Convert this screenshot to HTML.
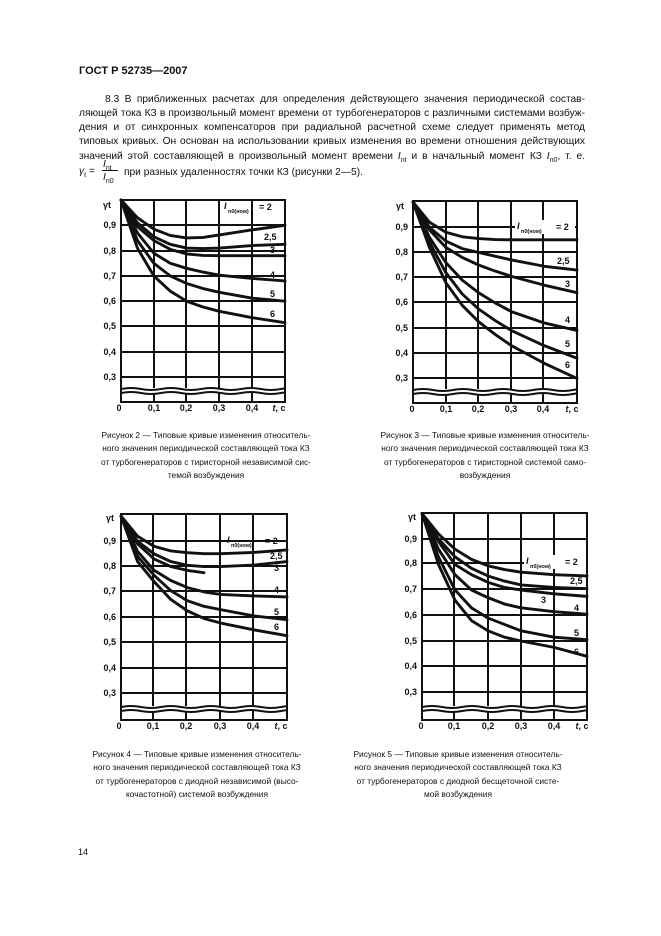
<!DOCTYPE html>
<html><head><meta charset="utf-8">
<style>
body{margin:0;background:#fff;}
#pg{position:relative;width:661px;height:936px;overflow:hidden;font-family:"Liberation Sans",Arial,sans-serif;color:#111;}
.l{position:absolute;font-size:10.2px;white-space:nowrap;text-align:justify;text-align-last:justify;line-height:12px;}
.cap{position:absolute;font-size:8.4px;line-height:13.3px;text-align:center;white-space:nowrap;}
svg{position:absolute;left:0;top:0;}
svg text{font-family:"Liberation Sans",Arial,sans-serif;font-weight:bold;fill:#111;}
.c{fill:none;stroke:#111;stroke-width:2.9px;stroke-linejoin:round;stroke-linecap:round;}
.g{stroke:#111;stroke-width:2px;fill:none;}
</style></head><body><div id="pg">
<div style="position:absolute;left:79px;top:65px;font-size:11px;font-weight:bold;">ГОСТ Р 52735—2007</div>
<div class="l" style="left:105px;top:94px;width:480px;">8.3 В приближенных расчетах для определения действующего значения периодической состав-</div>
<div class="l" style="left:79px;top:108px;width:506px;">ляющей тока КЗ в произвольный момент времени от турбогенераторов с различными системами возбуж-</div>
<div class="l" style="left:79px;top:122px;width:506px;">дения и от синхронных компенсаторов при радиальной расчетной схеме следует применять метод</div>
<div class="l" style="left:79px;top:136px;width:506px;">типовых кривых. Он основан на использовании кривых изменения во времени отношения действующих</div>
<div class="l" style="left:79px;top:151px;width:506px;">значений этой составляющей в произвольный момент времени <i>I</i><sub style="font-size:7px">nt</sub> и в начальный момент КЗ <i>I</i><sub style="font-size:7px">n0</sub>, т. е.</div>
<div style="position:absolute;left:79px;top:166px;font-size:10.2px;"><i>γ</i><sub style="font-size:7px">t</sub> =</div>
<div style="position:absolute;left:103px;top:159px;font-size:10.2px;"><i>I</i><sub style="font-size:7px">nt</sub></div>
<div style="position:absolute;left:102px;top:170px;width:16px;border-top:1px solid #111;"></div>
<div style="position:absolute;left:103px;top:172px;font-size:10.2px;"><i>I</i><sub style="font-size:7px">n0</sub></div>
<div style="position:absolute;left:124px;top:167px;font-size:10.2px;">при разных удаленностях точки КЗ (рисунки 2—5).</div>

<svg width="661" height="936" viewBox="0 0 661 936" font-size="9">
<defs>
<clipPath id="k1"><rect x="121" y="380" width="164" height="30"/></clipPath>
<clipPath id="k2"><rect x="413" y="380" width="164" height="30"/></clipPath>
<clipPath id="k3"><rect x="121" y="698" width="166" height="30"/></clipPath>
<clipPath id="k4"><rect x="422" y="698" width="165" height="30"/></clipPath>
</defs>
<!-- Chart 1 -->
<g>
<rect x="121" y="200" width="164" height="202" class="g"/>
<path class="g" d="M121 225H285M121 251H285M121 276H285M121 301H285M121 326H285M121 352H285M121 377H285M154 200V402M186 200V402M219 200V402M252 200V402"/>
<g transform="matrix(328,0,0,-253,121,453)">
<polyline vector-effect="non-scaling-stroke" class="c" points="0,1 .05,.93 .1,.885 .15,.86 .2,.85 .25,.852 .3,.862 .4,.882 .5,.9"/>
<polyline vector-effect="non-scaling-stroke" class="c" points="0,1 .05,.91 .1,.855 .15,.825 .2,.81 .25,.808 .3,.81 .4,.82 .5,.825"/>
<polyline vector-effect="non-scaling-stroke" class="c" points="0,1 .05,.895 .1,.84 .15,.805 .2,.787 .25,.781 .3,.78 .4,.78 .5,.78"/>
<polyline vector-effect="non-scaling-stroke" class="c" points="0,1 .05,.87 .1,.79 .15,.75 .2,.73 .25,.715 .3,.703 .4,.69 .5,.68"/>
<polyline vector-effect="non-scaling-stroke" class="c" points="0,1 .05,.84 .1,.75 .15,.7 .2,.67 .25,.65 .3,.635 .4,.612 .5,.6"/>
<polyline vector-effect="non-scaling-stroke" class="c" points="0,1 .05,.81 .1,.7 .15,.64 .2,.6 .25,.577 .3,.56 .4,.535 .5,.515"/>
</g>
<rect x="122" y="388" width="162" height="5" fill="#fff"/>
<g clip-path="url(#k1)">
<path class="g" d="M121 389q10-2 20 0t20 0t20 0t20 0t20 0t20 0t20 0t20 0t20 0"/>
<path class="g" d="M121 393q10-2 20 0t20 0t20 0t20 0t20 0t20 0t20 0t20 0t20 0"/>
</g>
<text x="103" y="208">γt</text>
<g text-anchor="end"><text x="116" y="228">0,9</text><text x="116" y="254">0,8</text><text x="116" y="279">0,7</text><text x="116" y="304">0,6</text><text x="116" y="329">0,5</text><text x="116" y="355">0,4</text><text x="116" y="380">0,3</text></g>
<g text-anchor="middle"><text x="119" y="411">0</text><text x="154" y="411">0,1</text><text x="186" y="411">0,2</text><text x="219" y="411">0,3</text><text x="252" y="411">0,4</text><text x="279" y="411"><tspan font-style="italic">t</tspan>, c</text></g>
<text x="224" y="209" font-style="italic" font-size="9">I</text><text x="228" y="213" font-size="5.5">п0(ном)</text><text x="259" y="210">= 2</text>
<text x="264" y="240">2,5</text><text x="270" y="253">3</text><text x="270" y="278">4</text><text x="270" y="297">5</text><text x="270" y="317">6</text>
</g>

<!-- Chart 2 -->
<g>
<rect x="413" y="201" width="164" height="202" class="g"/>
<path class="g" d="M413 227H577M413 252H577M413 277H577M413 302H577M413 328H577M413 353H577M413 378H577M446 201V403M478 201V403M511 201V403M543 201V403"/>
<g transform="matrix(328,0,0,-252,413,454)">
<polyline vector-effect="non-scaling-stroke" class="c" points="0,1 .05,.92 .1,.88 .15,.862 .2,.855 .25,.851 .3,.85 .4,.85 .5,.85"/>
<polyline vector-effect="non-scaling-stroke" class="c" points="0,1 .05,.9 .1,.845 .15,.815 .2,.8 .25,.785 .3,.77 .4,.745 .5,.73"/>
<polyline vector-effect="non-scaling-stroke" class="c" points="0,1 .05,.89 .1,.82 .15,.78 .2,.75 .25,.726 .3,.705 .4,.67 .5,.64"/>
<polyline vector-effect="non-scaling-stroke" class="c" points="0,1 .05,.86 .1,.76 .15,.69 .2,.64 .25,.6 .3,.565 .4,.52 .5,.49"/>
<polyline vector-effect="non-scaling-stroke" class="c" points="0,1 .05,.84 .1,.72 .15,.635 .2,.575 .25,.53 .3,.49 .4,.43 .5,.38"/>
<polyline vector-effect="non-scaling-stroke" class="c" points="0,1 .05,.82 .1,.68 .15,.59 .2,.525 .25,.475 .3,.43 .4,.36 .5,.3"/>
</g>
<rect x="414" y="389" width="162" height="5" fill="#fff"/>
<g clip-path="url(#k2)">
<path class="g" d="M413 390q10-2 20 0t20 0t20 0t20 0t20 0t20 0t20 0t20 0t20 0"/>
<path class="g" d="M413 394q10-2 20 0t20 0t20 0t20 0t20 0t20 0t20 0t20 0t20 0"/>
</g>
<text x="396" y="209">γt</text>
<g text-anchor="end"><text x="408" y="230">0,9</text><text x="408" y="255">0,8</text><text x="408" y="280">0,7</text><text x="408" y="305">0,6</text><text x="408" y="331">0,5</text><text x="408" y="356">0,4</text><text x="408" y="381">0,3</text></g>
<g text-anchor="middle"><text x="412" y="412">0</text><text x="446" y="412">0,1</text><text x="478" y="412">0,2</text><text x="511" y="412">0,3</text><text x="543" y="412">0,4</text><text x="572" y="412"><tspan font-style="italic">t</tspan>, c</text></g>
<rect x="515" y="220" width="60" height="14" fill="#fff"/>
<text x="517" y="229" font-style="italic" font-size="9">I</text><text x="521" y="233" font-size="5.5">п0(ном)</text><text x="556" y="230">= 2</text>
<text x="557" y="264">2,5</text><text x="565" y="287">3</text><text x="565" y="323">4</text><text x="565" y="347">5</text><text x="565" y="368">6</text>
</g>

<!-- Chart 3 -->
<g>
<rect x="121" y="514" width="166" height="206" class="g"/>
<path class="g" d="M121 541H287M121 566H287M121 591H287M121 617H287M121 642H287M121 668H287M121 693H287M153 514V720M186 514V720M220 514V720M253 514V720"/>
<g transform="matrix(332,0,0,-253,121,769)">
<polyline vector-effect="non-scaling-stroke" class="c" points="0,1 .05,.92 .1,.88 .15,.862 .2,.855 .25,.851 .3,.851 .4,.856 .5,.866"/>
<polyline vector-effect="non-scaling-stroke" class="c" points="0,1 .05,.9 .1,.85 .15,.82 .2,.805 .25,.8 .3,.8 .4,.806 .5,.82"/>
<polyline vector-effect="non-scaling-stroke" class="c" points="0,1 .05,.89 .1,.83 .15,.8 .2,.785 .25,.776"/>
<polyline vector-effect="non-scaling-stroke" class="c" points="0,1 .05,.86 .1,.785 .15,.745 .2,.717 .25,.7 .3,.69 .4,.684 .5,.68"/>
<polyline vector-effect="non-scaling-stroke" class="c" points="0,1 .05,.84 .1,.765 .15,.705 .2,.665 .25,.643 .3,.63 .4,.605 .5,.59"/>
<polyline vector-effect="non-scaling-stroke" class="c" points="0,1 .05,.82 .1,.74 .15,.67 .2,.625 .25,.595 .3,.577 .4,.55 .5,.527"/>
</g>
<rect x="122" y="706" width="164" height="5" fill="#fff"/>
<g clip-path="url(#k3)">
<path class="g" d="M121 707q10-2 20 0t20 0t20 0t20 0t20 0t20 0t20 0t20 0t20 0"/>
<path class="g" d="M121 711q10-2 20 0t20 0t20 0t20 0t20 0t20 0t20 0t20 0t20 0"/>
</g>
<text x="106" y="521">γt</text>
<g text-anchor="end"><text x="116" y="544">0,9</text><text x="116" y="569">0,8</text><text x="116" y="594">0,7</text><text x="116" y="620">0,6</text><text x="116" y="645">0,5</text><text x="116" y="671">0,4</text><text x="116" y="696">0,3</text></g>
<g text-anchor="middle"><text x="119" y="729">0</text><text x="153" y="729">0,1</text><text x="186" y="729">0,2</text><text x="220" y="729">0,3</text><text x="253" y="729">0,4</text><text x="281" y="729"><tspan font-style="italic">t</tspan>, c</text></g>
<text x="227" y="543" font-style="italic" font-size="9">I</text><text x="231" y="547" font-size="5.5">п0(ном)</text><text x="265" y="544">= 2</text>
<text x="270" y="559">2,5</text><text x="274" y="571">3</text><text x="274" y="593">4</text><text x="274" y="615">5</text><text x="274" y="630">6</text>
</g>

<!-- Chart 4 -->
<g>
<rect x="422" y="513" width="165" height="207" class="g"/>
<path class="g" d="M422 539H587M422 563H587M422 589H587M422 615H587M422 641H587M422 666H587M422 692H587M454 513V720M488 513V720M521 513V720M554 513V720"/>
<g transform="matrix(330,0,0,-255,422,768.5)">
<polyline vector-effect="non-scaling-stroke" class="c" points="0,1 .05,.92 .1,.86 .15,.82 .2,.795 .25,.78 .3,.77 .4,.76 .5,.755"/>
<polyline vector-effect="non-scaling-stroke" class="c" points="0,1 .05,.9 .1,.83 .15,.785 .2,.755 .25,.735 .3,.72 .4,.71 .5,.705"/>
<polyline vector-effect="non-scaling-stroke" class="c" points="0,1 .05,.89 .1,.8 .15,.76 .2,.73 .25,.71 .3,.7 .4,.685 .5,.675"/>
<polyline vector-effect="non-scaling-stroke" class="c" points="0,1 .05,.86 .1,.76 .15,.7 .2,.67 .25,.645 .3,.63 .4,.615 .5,.605"/>
<polyline vector-effect="non-scaling-stroke" class="c" points="0,1 .05,.83 .1,.7 .15,.63 .2,.59 .25,.565 .3,.54 .4,.515 .5,.505"/>
<polyline vector-effect="non-scaling-stroke" class="c" points="0,1 .05,.8 .1,.66 .15,.58 .2,.54 .25,.515 .3,.5 .4,.475 .5,.44"/>
</g>
<rect x="423" y="706" width="163" height="5" fill="#fff"/>
<g clip-path="url(#k4)">
<path class="g" d="M422 707q10-2 20 0t20 0t20 0t20 0t20 0t20 0t20 0t20 0t20 0"/>
<path class="g" d="M422 711q10-2 20 0t20 0t20 0t20 0t20 0t20 0t20 0t20 0t20 0"/>
</g>
<text x="408" y="520">γt</text>
<g text-anchor="end"><text x="417" y="542">0,9</text><text x="417" y="566">0,8</text><text x="417" y="592">0,7</text><text x="417" y="618">0,6</text><text x="417" y="644">0,5</text><text x="417" y="669">0,4</text><text x="417" y="695">0,3</text></g>
<g text-anchor="middle"><text x="421" y="729">0</text><text x="454" y="729">0,1</text><text x="488" y="729">0,2</text><text x="521" y="729">0,3</text><text x="554" y="729">0,4</text><text x="582" y="729"><tspan font-style="italic">t</tspan>, c</text></g>
<rect x="524" y="555" width="62" height="14" fill="#fff"/>
<text x="526" y="564" font-style="italic" font-size="9">I</text><text x="530" y="568" font-size="5.5">п0(ном)</text><text x="565" y="565">= 2</text>
<text x="570" y="584">2,5</text><text x="541" y="603">3</text><text x="574" y="611">4</text><text x="574" y="636">5</text><text x="574" y="655">6</text>
</g>
</svg>

<div class="cap" style="left:76px;top:429px;width:260px;">Рисунок 2 — Типовые кривые изменения относитель-<br>ного значения периодической составляющей тока КЗ<br>от турбогенераторов с тиристорной независимой сис-<br>темой возбуждения</div>
<div class="cap" style="left:355px;top:429px;width:260px;">Рисунок 3 — Типовые кривые изменения относитель-<br>ного значения периодической составляющей тока КЗ<br>от турбогенераторов с тиристорной системой само-<br>возбуждения</div>
<div class="cap" style="left:67px;top:748px;width:260px;">Рисунок 4 — Типовые кривые изменения относитель-<br>ного значения периодической составляющей тока КЗ<br>от турбогенераторов с диодной независимой (высо-<br>кочастотной) системой возбуждения</div>
<div class="cap" style="left:328px;top:748px;width:260px;">Рисунок 5 — Типовые кривые изменения относитель-<br>ного значения периодической составляющей тока КЗ<br>от турбогенераторов с диодной бесщеточной систе-<br>мой возбуждения</div>
<div style="position:absolute;left:78px;top:847px;font-size:9px;">14</div>
</div></body></html>
